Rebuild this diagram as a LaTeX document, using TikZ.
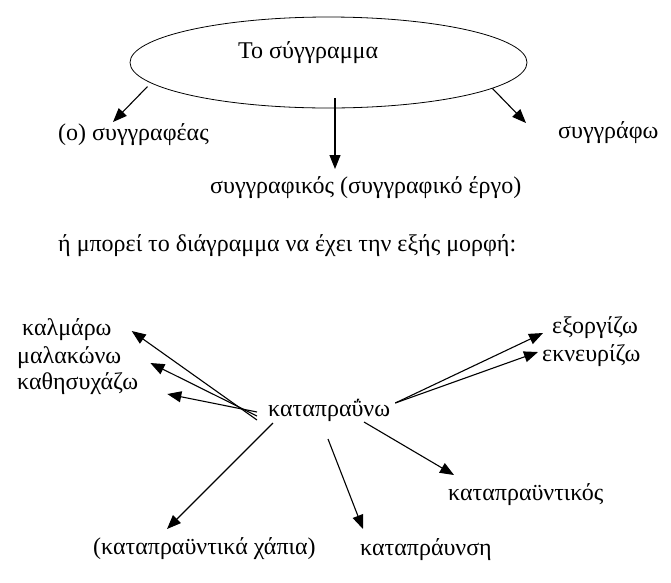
\documentclass[tikz,border=0pt]{standalone}
\usepackage{fontspec}
\setmainfont{Liberation Serif}
\usepackage{tikz}
\usetikzlibrary{arrows.meta,shapes.geometric}

\begin{document}
\begin{tikzpicture}[x=1pt, y=-1pt, font=\fontsize{24}{28}\selectfont]
  \tikzset{lbl/.style={anchor=base west, inner sep=0pt}, arr/.style={-{Triangle[length=14pt,width=11pt]}, line width=1.1pt}}
  \useasboundingbox (0,0) rectangle (671,582);
  % first form: the noun in an oval, three derived words
  \node[draw, ellipse, line width=0.8pt, minimum width=397pt, minimum height=91pt, inner sep=0pt] (oval) at (328.5,62.5) {};
  \node[lbl] (title) at (238,58) {Το σύγγραμμα};
  \node[lbl] (syggr) at (58,140) {(ο) συγγραφέας};
  \node[lbl] (sgf) at (558,138) {συγγράφω};
  \node[lbl] (skg) at (210,193) {συγγραφικός (συγγραφικό έργο)};
  \draw[arr] ([yshift=-5pt]oval.186) -- ([xshift=55pt,yshift=18pt]syggr.base west);
  \draw[arr] ([xshift=6.5pt,yshift=10pt]oval.south) -- ([xshift=125pt,yshift=24pt]skg.base west);
  \draw[arr] (oval.-9) -- ([xshift=-32pt,yshift=15pt]sgf.base west);
  \node[lbl] (note) at (58,251) {ή μπορεί το διάγραμμα να έχει την εξής μορφή:};
  % second form: the verb in the middle
  \node[lbl] (katap) at (268,416) {καταπραΰνω};
  \node[lbl] (kalm) at (22,335) {καλμάρω};
  \node[lbl] (malak) at (17,363) {μαλακώνω};
  \node[lbl] (kathis) at (17,389) {καθησυχάζω};
  \node[lbl] (exorg) at (552,333) {εξοργίζω};
  \node[lbl] (eknevr) at (542,361) {εκνευρίζω};
  \node[lbl] (katapt) at (448,500) {καταπραϋντικός};
  \node[lbl] (xapia) at (93,554) {(καταπραϋντικά χάπια)};
  \node[lbl] (kataprav) at (360,555) {καταπράυνση};
  \draw[arr] ([xshift=-11pt,yshift=-4pt]katap.base west) -- ([xshift=20pt,yshift=4pt]kalm.base east);
  \draw[arr] ([xshift=-11pt]katap.base west) -- ([xshift=29pt]malak.base east);
  \draw[arr] ([xshift=-11pt,yshift=4pt]katap.base west) -- ([xshift=29pt,yshift=-5pt]kathis.base east);
  \draw[arr] ([xshift=5pt,yshift=13pt]katap.base east) -- ([xshift=-9pt]exorg.base west);
  \draw[arr] ([xshift=5pt,yshift=13pt]katap.base east) -- ([xshift=-4pt,yshift=9pt]eknevr.base west);
  \draw[arr] ([xshift=5pt,yshift=-7pt]katap.base west) -- ([xshift=74pt,yshift=25pt]xapia.base west);
  \draw[arr] ([xshift=60pt,yshift=-23pt]katap.base west) -- ([xshift=3pt,yshift=26pt]kataprav.base west);
  \draw[arr] ([xshift=96pt,yshift=-6pt]katap.base west) -- ([xshift=6pt,yshift=25pt]katapt.base west);
\end{tikzpicture}
\end{document}
